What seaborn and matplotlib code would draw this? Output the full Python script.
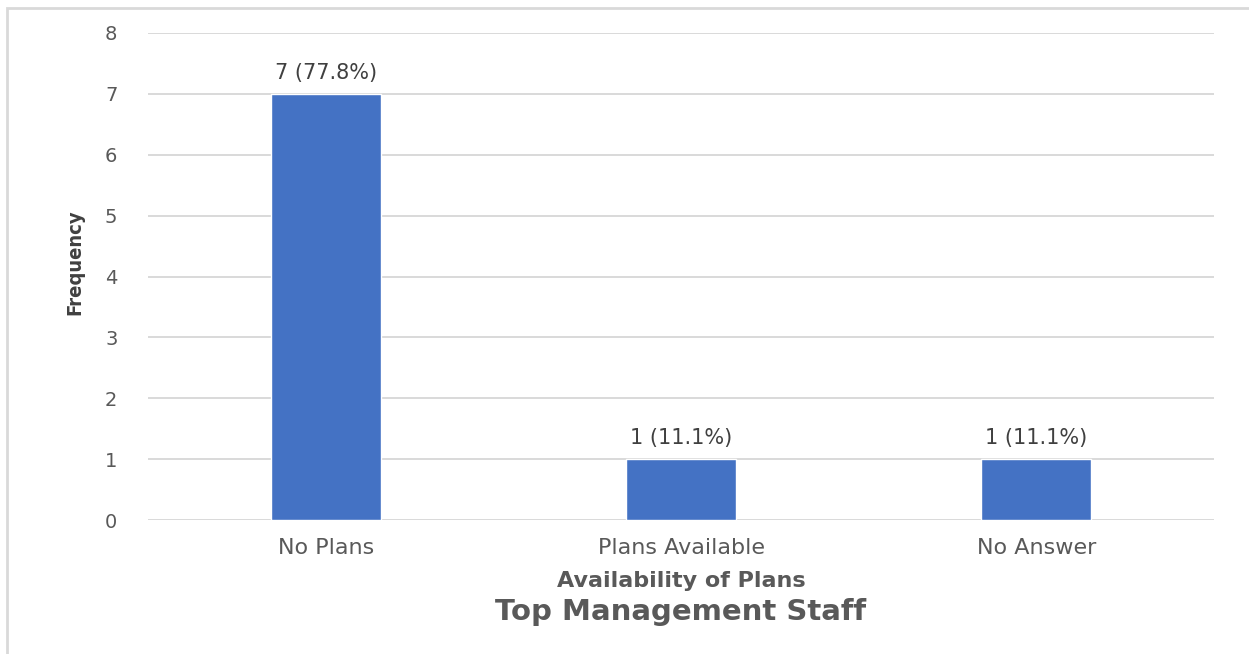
import matplotlib
matplotlib.use("Agg")
import matplotlib.pyplot as plt
import seaborn as sns
import pandas as pd
from matplotlib.patches import Rectangle

categories = ["No Plans", "Plans Available", "No Answer"]
frequency = [7, 1, 1]
labels = ["7 (77.8%)", "1 (11.1%)", "1 (11.1%)"]
yticks = [0, 1, 2, 3, 4, 5, 6, 7, 8]

sns.set_theme(style="white")
plt.rcParams['font.family'] = ['DejaVu Sans']

df = pd.DataFrame({"cat": categories, "freq": frequency})

fig = plt.figure(figsize=(12.49, 6.54), dpi=100)
ax = fig.add_axes([148/1249, 1-520/654, (1214-148)/1249, (520-33)/654])

sns.barplot(data=df, x="cat", y="freq", color="#4472C4", width=0.31,
            saturation=1, ax=ax, zorder=3)

ax.set_ylim(0, 8)
ax.set_yticks(yticks)
ax.set_xlim(-0.5, 2.5)
ax.grid(axis="y", color="#d9d9d9", linewidth=1.4, zorder=0)
ax.set_axisbelow(True)
for s in ax.spines.values():
    s.set_visible(False)
ax.tick_params(axis="y", length=0, labelsize=14, labelcolor="#595959", pad=22)
ax.tick_params(axis="x", length=0, labelsize=16, labelcolor="#595959", pad=13)

for i, (v, t) in enumerate(zip(frequency, labels)):
    ax.annotate(t, (i, v), xytext=(0, 8), textcoords="offset points",
                ha="center", va="bottom", fontsize=15, color="#404040")

ax.set_xlabel("Availability of Plans", fontsize=16, fontweight="bold",
              color="#595959", labelpad=9)
ax.set_ylabel("Frequency", fontsize=14.5, fontweight="bold", color="#404040",
              fontstretch="condensed", va="center")
ax.yaxis.set_label_coords((75-148)/1066, (520-262)/487)

fig.text((148+1214)/2/1249, 1-612/654, "Top Management Staff", ha="center",
         va="center", fontsize=21, fontweight="bold", color="#595959")

fig.patches.append(Rectangle((7/1249, -0.1), 1.2, 1-8/654+0.1,
                             transform=fig.transFigure, fill=False,
                             edgecolor="#d9d9d9", linewidth=2))

fig.savefig("out.png", dpi=100)
